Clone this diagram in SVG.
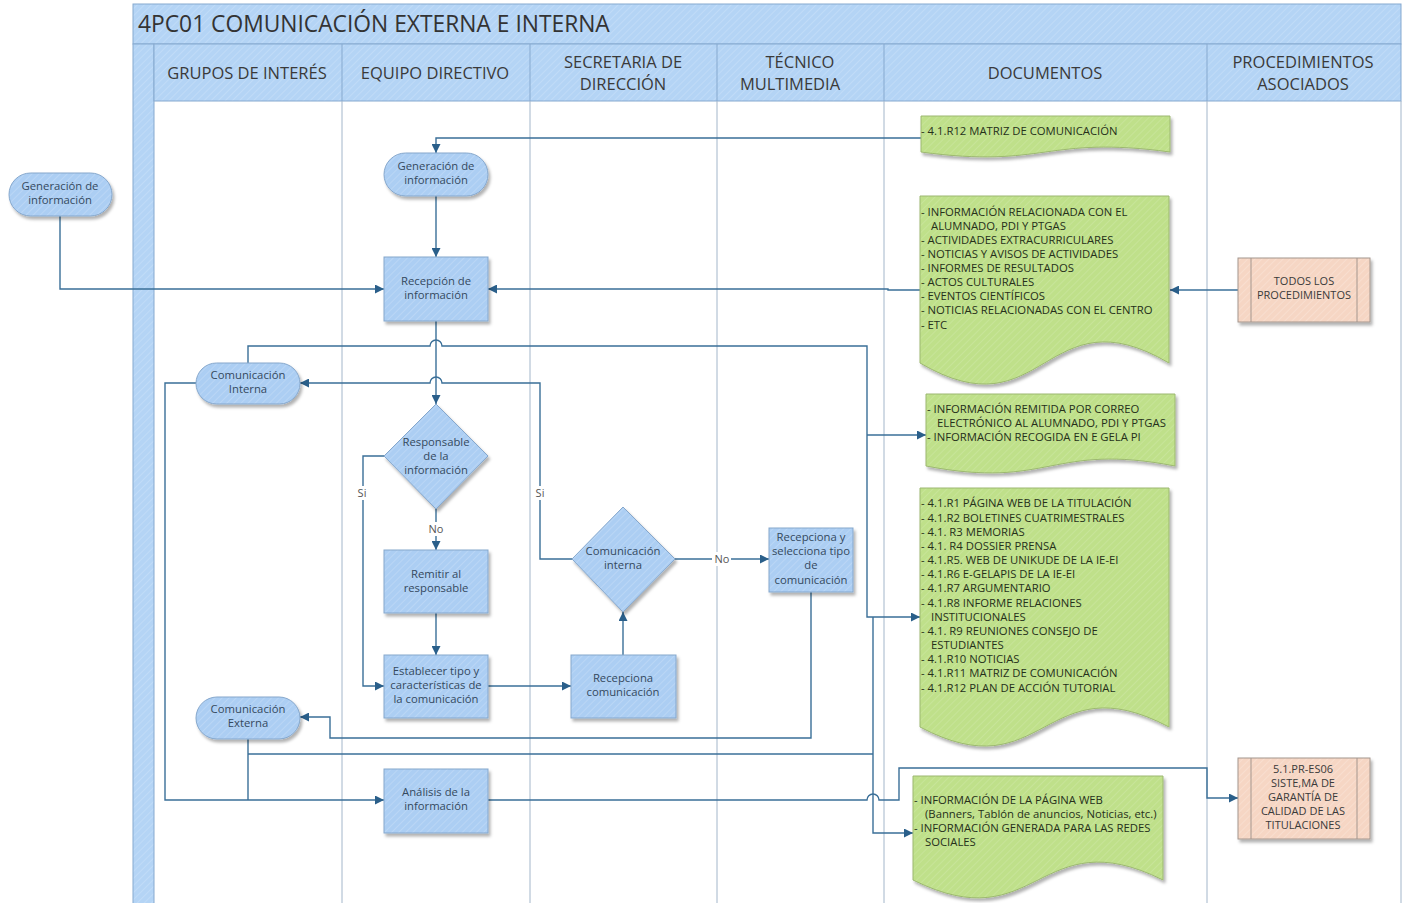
<svg xmlns="http://www.w3.org/2000/svg" width="1406" height="903" viewBox="0 0 1406 903">
<defs>
<pattern id="hb" width="5" height="5" patternUnits="userSpaceOnUse" patternTransform="rotate(45)"><rect width="5" height="5" fill="#acceF3"/><line x1="0" y1="0" x2="0" y2="5" stroke="#c0daf7" stroke-width="1.4"/></pattern>
<pattern id="hh" width="5" height="5" patternUnits="userSpaceOnUse" patternTransform="rotate(45)"><rect width="5" height="5" fill="#b4d4f5"/><line x1="0" y1="0" x2="0" y2="5" stroke="#c6def8" stroke-width="1.4"/></pattern>
<pattern id="hg" width="5" height="5" patternUnits="userSpaceOnUse" patternTransform="rotate(45)"><rect width="5" height="5" fill="#bfe08a"/><line x1="0" y1="0" x2="0" y2="5" stroke="#cbe7a0" stroke-width="1.4"/></pattern>
<pattern id="hp" width="5" height="5" patternUnits="userSpaceOnUse" patternTransform="rotate(45)"><rect width="5" height="5" fill="#f6d6c4"/><line x1="0" y1="0" x2="0" y2="5" stroke="#fae2d4" stroke-width="1.4"/></pattern>
<filter id="sh" x="-10%" y="-10%" width="130%" height="130%"><feDropShadow dx="2" dy="3" stdDeviation="1.5" flood-color="#000" flood-opacity="0.3"/></filter>
<marker id="ar" viewBox="0 0 10 10" refX="10" refY="5" markerWidth="9" markerHeight="9" markerUnits="userSpaceOnUse" orient="auto"><path d="M0,0 L10,5 L0,10 Z" fill="#2a5f8a"/></marker>
<style>
.lane{stroke:#a3b6ca;stroke-width:1;fill:none}
.hsep{stroke:#86a9cf;stroke-width:1}
.node{fill:url(#hb);stroke:#85a7cc;stroke-width:1;filter:url(#sh)}
.doc{fill:url(#hg);stroke:#9cb870;stroke-width:1;filter:url(#sh)}
.proc{fill:url(#hp);stroke:#a4968e;stroke-width:1;filter:url(#sh)}
.c{fill:none;stroke:#3a6f98;stroke-width:1.4}
.t{font-family:"Open Sans","Noto Sans",sans-serif;font-size:11.3px;fill:#34495e;text-anchor:middle}
.h{font-family:"Open Sans","Noto Sans",sans-serif;font-size:16.5px;fill:#3a3a3a;text-anchor:middle}
.ti{font-family:"Open Sans","Noto Sans",sans-serif;font-size:22.8px;fill:#333}
.d{font-family:"Open Sans","Noto Sans",sans-serif;font-size:11.3px;fill:#26301a}
.p{font-family:"Open Sans","Noto Sans",sans-serif;font-size:11px;fill:#3a3a3a;text-anchor:middle}
.lb{font-family:"Open Sans","Noto Sans",sans-serif;font-size:11px;fill:#555;text-anchor:middle}
</style>
</defs>
<rect width="1406" height="903" fill="#ffffff"/>
<g id="pool">
<rect x="133" y="4" width="1268" height="40" fill="url(#hh)" stroke="#86a9cf"/>
<text class="ti" x="138" y="32">4PC01 COMUNICACIÓN EXTERNA E INTERNA</text>
<rect x="133" y="44" width="21" height="870" fill="url(#hh)" stroke="#86a9cf"/>
<rect x="154" y="44" width="1247" height="57" fill="url(#hh)" stroke="#86a9cf"/>
<line class="hsep" x1="342" y1="44" x2="342" y2="101"/>
<line class="hsep" x1="530" y1="44" x2="530" y2="101"/>
<line class="hsep" x1="717" y1="44" x2="717" y2="101"/>
<line class="hsep" x1="884" y1="44" x2="884" y2="101"/>
<line class="hsep" x1="1207" y1="44" x2="1207" y2="101"/>
<line class="lane" x1="342" y1="101" x2="342" y2="903"/>
<line class="lane" x1="530" y1="101" x2="530" y2="903"/>
<line class="lane" x1="717" y1="101" x2="717" y2="903"/>
<line class="lane" x1="884" y1="101" x2="884" y2="903"/>
<line class="lane" x1="1207" y1="101" x2="1207" y2="903"/>
<line class="lane" x1="1401" y1="101" x2="1401" y2="903"/>
<text class="h" x="247" y="79">GRUPOS DE INTERÉS</text>
<text class="h" x="435" y="79">EQUIPO DIRECTIVO</text>
<text class="h" x="623" y="68">SECRETARIA DE</text>
<text class="h" x="623" y="90">DIRECCIÓN</text>
<text class="h" x="800" y="68">TÉCNICO</text>
<text class="h" x="790" y="90">MULTIMEDIA</text>
<text class="h" x="1045" y="79">DOCUMENTOS</text>
<text class="h" x="1303" y="68">PROCEDIMIENTOS</text>
<text class="h" x="1303" y="90">ASOCIADOS</text>
</g>
<g id="connectors">
<path class="c" d="M60,216 V289 H384" marker-end="url(#ar)"/>
<path class="c" d="M921,138 H436 V153" marker-end="url(#ar)"/>
<path class="c" d="M436,196 V257" marker-end="url(#ar)"/>
<path class="c" d="M920,290 H888 V289 H488" marker-end="url(#ar)"/>
<path class="c" d="M1238,290 H1170" marker-end="url(#ar)"/>
<path class="c" d="M436,321 V404" marker-end="url(#ar)"/>
<path class="c" d="M248,363 V346 H430 A6,6 0 0 1 442,346 H867 V617 H920" marker-end="url(#ar)"/>
<path class="c" d="M867,435 H926" marker-end="url(#ar)"/>
<path class="c" d="M572,559 H540 V383 H442 A6,6 0 0 0 430,383 H300" marker-end="url(#ar)"/>
<path class="c" d="M384,456 H363 V686 H384" marker-end="url(#ar)"/>
<path class="c" d="M436,509 V550" marker-end="url(#ar)"/>
<path class="c" d="M436,613 V655" marker-end="url(#ar)"/>
<path class="c" d="M488,686 H571" marker-end="url(#ar)"/>
<path class="c" d="M623,655 V612" marker-end="url(#ar)"/>
<path class="c" d="M675,559 H769" marker-end="url(#ar)"/>
<path class="c" d="M811,592 V738 H330 V717 H300" marker-end="url(#ar)"/>
<path class="c" d="M196,383 H165 V800 H384" marker-end="url(#ar)"/>
<path class="c" d="M248,739 V800"/>
<path class="c" d="M248,754 H873"/>
<path class="c" d="M873,617 V833 H913" marker-end="url(#ar)"/>
<path class="c" d="M488,800 H867 A6,6 0 0 1 879,800 H899 V768 H1207 V798 H1238" marker-end="url(#ar)"/>
<rect x="355" y="486" width="15" height="14" fill="#fff"/>
<text class="lb" x="362" y="497">Si</text>
<rect x="533" y="486" width="15" height="14" fill="#fff"/>
<text class="lb" x="540" y="497">Si</text>
<rect x="426" y="522" width="19" height="14" fill="#fff"/>
<text class="lb" x="436" y="533">No</text>
<rect x="712" y="552" width="19" height="14" fill="#fff"/>
<text class="lb" x="722" y="563">No</text>
</g>
<g id="n-gen-ext"><rect class="node" x="9" y="173" width="103" height="43" rx="21.5"/><text class="t" x="60" y="190">Generación de</text><text class="t" x="60" y="204">información</text></g>
<g id="n-gen"><rect class="node" x="384" y="153" width="104" height="43" rx="21.5"/><text class="t" x="436" y="170">Generación de</text><text class="t" x="436" y="184">información</text></g>
<g id="n-recepcion"><rect class="node" x="384" y="257" width="104" height="64"/><text class="t" x="436" y="285">Recepción de</text><text class="t" x="436" y="299">información</text></g>
<g id="n-com-int"><rect class="node" x="196" y="363" width="104" height="41" rx="20.5"/><text class="t" x="248" y="379">Comunicación</text><text class="t" x="248" y="393">Interna</text></g>
<g id="n-responsable"><path class="node" d="M436,404 L488,456 L436,509 L384,456 Z"/><text class="t" x="436" y="446">Responsable</text><text class="t" x="436" y="460">de la</text><text class="t" x="436" y="474">información</text></g>
<g id="n-remitir"><rect class="node" x="384" y="550" width="104" height="63"/><text class="t" x="436" y="578">Remitir al</text><text class="t" x="436" y="592">responsable</text></g>
<g id="n-establecer"><rect class="node" x="384" y="655" width="104" height="63"/><text class="t" x="436" y="675">Establecer tipo y</text><text class="t" x="436" y="689">características de</text><text class="t" x="436" y="703">la comunicación</text></g>
<g id="n-com-ext"><rect class="node" x="196" y="697" width="104" height="42" rx="21"/><text class="t" x="248" y="713">Comunicación</text><text class="t" x="248" y="727">Externa</text></g>
<g id="n-analisis"><rect class="node" x="384" y="769" width="104" height="64"/><text class="t" x="436" y="796">Análisis de la</text><text class="t" x="436" y="810">información</text></g>
<g id="n-com-interna-dec"><path class="node" d="M623,507 L675,559 L623,612 L572,559 Z"/><text class="t" x="623" y="555">Comunicación</text><text class="t" x="623" y="569">interna</text></g>
<g id="n-recepciona"><rect class="node" x="571" y="655" width="105" height="63"/><text class="t" x="623" y="682">Recepciona</text><text class="t" x="623" y="696">comunicación</text></g>
<g id="n-recepciona-sel"><rect class="node" x="769" y="528" width="84" height="64"/><text class="t" x="811" y="541">Recepciona y</text><text class="t" x="811" y="555">selecciona tipo</text><text class="t" x="811" y="569">de</text><text class="t" x="811" y="584">comunicación</text></g>
<g id="doc-matriz"><path class="doc" d="M921,116 H1170 V152 C1045.5,135 1045.5,169 921,152 Z"/><text class="d" x="921" y="135">- 4.1.R12 MATRIZ DE COMUNICACIÓN</text></g>
<g id="doc-informacion"><path class="doc" d="M920,196 H1169 V363 C1044.5,290 1044.5,436 920,363 Z"/>
<text class="d" x="921" y="216">- INFORMACIÓN RELACIONADA CON EL</text>
<text class="d" x="931" y="230">ALUMNADO, PDI Y PTGAS</text>
<text class="d" x="921" y="244">- ACTIVIDADES EXTRACURRICULARES</text>
<text class="d" x="921" y="258">- NOTICIAS Y AVISOS DE ACTIVIDADES</text>
<text class="d" x="921" y="272">- INFORMES DE RESULTADOS</text>
<text class="d" x="921" y="286">- ACTOS CULTURALES</text>
<text class="d" x="921" y="300">- EVENTOS CIENTÍFICOS</text>
<text class="d" x="921" y="314">- NOTICIAS RELACIONADAS CON EL CENTRO</text>
<text class="d" x="921" y="329">- ETC</text></g>
<g id="doc-correo"><path class="doc" d="M926,394 H1175 V466 C1050.5,442 1050.5,490 926,466 Z"/>
<text class="d" x="927" y="413">- INFORMACIÓN REMITIDA POR CORREO</text>
<text class="d" x="937" y="427">ELECTRÓNICO AL ALUMNADO, PDI Y PTGAS</text>
<text class="d" x="927" y="441">- INFORMACIÓN RECOGIDA EN E GELA PI</text></g>
<g id="doc-registros"><path class="doc" d="M920,488 H1169 V727 C1044.5,661 1044.5,793 920,727 Z"/>
<text class="d" x="921" y="507">- 4.1.R1 PÁGINA WEB DE LA TITULACIÓN</text>
<text class="d" x="921" y="522">- 4.1.R2 BOLETINES CUATRIMESTRALES</text>
<text class="d" x="921" y="536">- 4.1. R3 MEMORIAS</text>
<text class="d" x="921" y="550">- 4.1. R4 DOSSIER PRENSA</text>
<text class="d" x="921" y="564">- 4.1.R5. WEB DE UNIKUDE DE LA IE-EI</text>
<text class="d" x="921" y="578">- 4.1.R6 E-GELAPIS DE LA IE-EI</text>
<text class="d" x="921" y="592">- 4.1.R7 ARGUMENTARIO</text>
<text class="d" x="921" y="607">- 4.1.R8 INFORME RELACIONES</text>
<text class="d" x="931" y="621">INSTITUCIONALES</text>
<text class="d" x="921" y="635">- 4.1. R9 REUNIONES CONSEJO DE</text>
<text class="d" x="931" y="649">ESTUDIANTES</text>
<text class="d" x="921" y="663">- 4.1.R10 NOTICIAS</text>
<text class="d" x="921" y="677">- 4.1.R11 MATRIZ DE COMUNICACIÓN</text>
<text class="d" x="921" y="692">- 4.1.R12 PLAN DE ACCIÓN TUTORIAL</text></g>
<g id="doc-web"><path class="doc" d="M913,776 H1163 V880 C1038,818 1038,942 913,880 Z"/>
<text class="d" x="914" y="804">- INFORMACIÓN  DE LA PÁGINA WEB</text>
<text class="d" x="925" y="818">(Banners, Tablón de anuncios, Noticias, etc.)</text>
<text class="d" x="914" y="832">- INFORMACIÓN GENERADA PARA LAS REDES</text>
<text class="d" x="925" y="846">SOCIALES</text></g>
<g id="proc-todos"><rect class="proc" x="1238" y="258" width="132" height="64"/><line x1="1251" y1="258" x2="1251" y2="322" stroke="#a4968e"/><line x1="1357" y1="258" x2="1357" y2="322" stroke="#a4968e"/><text class="p" x="1304" y="285">TODOS LOS</text><text class="p" x="1304" y="299">PROCEDIMIENTOS</text></g>
<g id="proc-sgc"><rect class="proc" x="1238" y="758" width="132" height="81"/><line x1="1251" y1="758" x2="1251" y2="839" stroke="#a4968e"/><line x1="1357" y1="758" x2="1357" y2="839" stroke="#a4968e"/><text class="p" x="1303" y="773">5.1.PR-ES06</text><text class="p" x="1303" y="787">SISTE,MA DE</text><text class="p" x="1303" y="801">GARANTÍA DE</text><text class="p" x="1303" y="815">CALIDAD DE LAS</text><text class="p" x="1303" y="829">TITULACIONES</text></g>
</svg>
